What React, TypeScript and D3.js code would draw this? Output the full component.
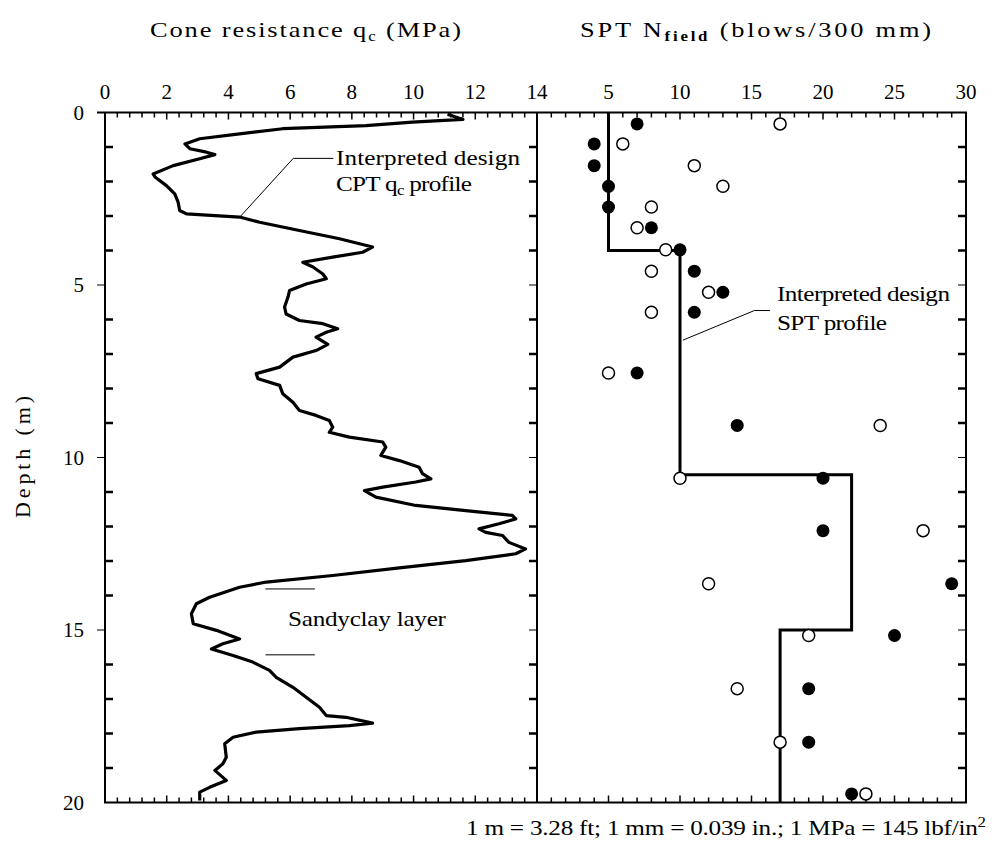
import React from 'react';
import * as d3 from 'd3';

// CPT cone resistance profile (MPa) vs depth (m)
const cptQc = [11.1, 11.6, 9.96, 8.46, 5.76, 4.36, 3.07, 2.59, 2.75, 3.29, 3.56, 3.07, 2.21, 1.56, 1.62, 1.99, 2.26, 2.37, 2.42, 2.64,
  4.36, 5.01, 6.3, 7.6, 8.67, 8.35, 7.38, 6.41, 6.74, 7.06, 7.17, 6.52, 5.98, 5.93, 5.82, 5.87, 6.3, 7.06, 7.54, 7.17,
  6.84, 7.22, 6.84, 6.09, 5.66, 4.9, 4.96, 5.66, 5.76, 6.09, 6.3, 6.84, 7.27, 7.38, 7.27, 7.92, 9.0, 9.1, 8.94, 9.54,
  10.18, 10.29, 10.56, 10.07, 9.0, 8.41, 8.78, 10.07, 11.69, 13.2, 13.31, 12.77, 12.12, 12.34, 12.88, 13.09, 13.63, 13.31, 11.69, 9.54,
  7.38, 5.23, 4.36, 3.39, 2.96, 2.8, 2.86, 3.61, 4.36, 3.82, 3.45, 4.15, 4.79, 5.33, 5.55, 6.09, 6.52, 6.95, 7.17, 7.81,
  8.67, 7.92, 6.3, 4.9, 4.15, 3.88, 3.93, 3.82, 3.56, 3.93, 3.39, 3.07, 3.07];
const cptDepth = [0.05, 0.2, 0.28, 0.38, 0.47, 0.62, 0.76, 0.91, 1.05, 1.15, 1.22, 1.34, 1.54, 1.78, 1.87, 2.12, 2.36, 2.6, 2.84, 2.94,
  3.03, 3.18, 3.42, 3.66, 3.9, 4.05, 4.19, 4.34, 4.48, 4.68, 4.82, 4.97, 5.16, 5.35, 5.64, 5.84, 6.03, 6.12, 6.27, 6.37,
  6.51, 6.72, 6.9, 7.09, 7.38, 7.57, 7.72, 7.91, 8.15, 8.4, 8.64, 8.78, 8.93, 9.12, 9.27, 9.41, 9.55, 9.7, 9.94, 10.09,
  10.28, 10.47, 10.62, 10.71, 10.86, 10.96, 11.15, 11.39, 11.54, 11.68, 11.78, 11.92, 12.07, 12.17, 12.26, 12.46, 12.65, 12.79, 12.99, 13.2,
  13.42, 13.61, 13.76, 14.05, 14.24, 14.53, 14.82, 15.01, 15.26, 15.4, 15.55, 15.74, 15.93, 16.17, 16.37, 16.66, 16.95, 17.24, 17.48, 17.53,
  17.7, 17.77, 17.86, 17.96, 18.11, 18.3, 18.69, 18.88, 19.07, 19.36, 19.56, 19.7, 19.94];

// SPT blow counts
const sptDepth = [0.33, 0.91, 1.54, 2.14, 2.74, 3.34, 3.98, 4.6, 5.21, 5.79, 7.55, 9.07, 10.6, 12.12, 13.66, 15.16, 16.7, 18.25, 19.75];
const sptFilled = [7, 4, 4, 5, 5, 8, 10, 11, 13, 11, 7, 14, 20, 20, 29, 25, 19, 19, 22];
const sptOpen = [17, 6, 11, 13, 8, 7, 9, 8, 12, 8, 5, 24, 10, 27, 12, 19, 14, 17, 23];

// Interpreted design SPT profile (step)
const designDepth = [0, 4, 10.5, 15, 20];
const designN = [5, 10, 22, 17];

const qcTickLabels = [0, 2, 4, 6, 8, 10, 12, 14];
const nTickLabels = [5, 10, 15, 20, 25, 30];
const depthTickLabels = [0, 5, 10, 15, 20];

const FONT = '"Liberation Serif", "Times New Roman", Times, serif';
const TS: React.CSSProperties = { fontFamily: FONT, fontWeight: 400 };
const SX = 1.2;

function SText(props: { x: number; y: number; size: number; len: number; children: any }) {
  const { x, y, size, len, children } = props;
  return (
    <text transform={`translate(${x},${y}) scale(${SX},1)`} fontSize={size} textLength={len / SX} lengthAdjust="spacing">
      {children}
    </text>
  );
}

export default function App() {
  const xq = d3.scaleLinear().domain([0, 14]).range([105, 537]);
  const xn = d3.scaleLinear().domain([0, 30]).range([537, 966]);
  const y = d3.scaleLinear().domain([0, 20]).range([112.5, 802.5]);

  const top = y(0), bot = y(20), left = xq(0), mid = xq(14), right = xn(30);

  const cptPath = d3.line<number>().x((_, i) => xq(cptQc[i])).y((d) => y(d))(cptDepth) || '';

  const designPts: [number, number][] = [];
  designN.forEach((n, i) => {
    designPts.push([xn(n), y(designDepth[i])]);
    designPts.push([xn(n), y(designDepth[i + 1])]);
  });
  const designPath = d3.line()(designPts) || '';

  const qMinor = d3.range(0, 36).map((i) => ({ v: i * 0.4, major: i % 5 === 0 }));
  const nMinor = d3.range(0, 31).map((i) => ({ v: i, major: i % 5 === 0 }));
  const dTicks = d3.range(1, 20).map((i) => ({ v: i, major: i % 5 === 0 }));

  const hTicks: any[] = [];
  qMinor.forEach((t, i) => {
    const x = xq(t.v);
    const len = t.major ? 7 : 5;
    hTicks.push(<line key={'qt' + i} x1={x} x2={x} y1={top} y2={top + len} />);
    hTicks.push(<line key={'qb' + i} x1={x} x2={x} y1={bot} y2={bot - len} />);
  });
  nMinor.forEach((t, i) => {
    const x = xn(t.v);
    const len = t.major ? 7 : 5;
    hTicks.push(<line key={'nt' + i} x1={x} x2={x} y1={top} y2={top + len} />);
    hTicks.push(<line key={'nb' + i} x1={x} x2={x} y1={bot} y2={bot - len} />);
  });

  const vTicks: any[] = [];
  dTicks.forEach((t, i) => {
    const yy = y(t.v);
    if (t.major) {
      vTicks.push(<line key={'la' + i} x1={left - 8} x2={left} y1={yy} y2={yy} strokeWidth={1} />);
      vTicks.push(<line key={'ma' + i} x1={mid - 8} x2={mid} y1={yy} y2={yy} strokeWidth={1} />);
      vTicks.push(<line key={'ra' + i} x1={right - 8} x2={right} y1={yy} y2={yy} strokeWidth={1} />);
    } else {
      vTicks.push(<line key={'li' + i} x1={left} x2={left + 8} y1={yy} y2={yy} strokeWidth={2.5} />);
      vTicks.push(<line key={'mi' + i} x1={mid - 8} x2={mid} y1={yy} y2={yy} strokeWidth={2.5} />);
      vTicks.push(<line key={'ri' + i} x1={right - 8} x2={right} y1={yy} y2={yy} strokeWidth={2.5} />);
    }
  });

  return (
    <svg width={992} height={846} style={{ position: 'absolute', left: 0, top: 0, background: '#fff' }}>
      <rect x={0} y={0} width={992} height={846} fill="#fff" />

      <g style={TS} fill="#000">
        {/* Titles */}
        <SText x={150} y={37} size={22} len={311}>
          Cone resistance q<tspan dy={4} fontSize={14}>c</tspan><tspan dy={-4}> (MPa)</tspan>
        </SText>
        <SText x={580} y={37} size={22} len={351}>
          SPT N<tspan dy={4} fontSize={14} style={{ fontWeight: 700 }}>field</tspan><tspan dy={-4}> (blows/300 mm)</tspan>
        </SText>

        {/* Top tick labels */}
        {qcTickLabels.map((v) => (
          <text key={'ql' + v} x={xq(v)} y={99} fontSize={21} textAnchor="middle">{v}</text>
        ))}
        {nTickLabels.map((v) => (
          <text key={'nl' + v} x={xn(v)} y={99} fontSize={21} textAnchor="middle">{v}</text>
        ))}

        {/* Depth tick labels */}
        {depthTickLabels.map((v) => (
          <text key={'dl' + v} x={84} y={y(v) + 7} fontSize={21} textAnchor="end">{v}</text>
        ))}
        <text transform={`translate(30,457) rotate(-90)`} fontSize={22} textAnchor="middle" textLength={122} lengthAdjust="spacing">Depth (m)</text>
      </g>

      {/* Frame and ticks */}
      <g stroke="#000" fill="none">
        <g strokeWidth={1.5}>{hTicks}</g>
        {vTicks}
        <line x1={97} x2={right + 1} y1={top} y2={top} strokeWidth={2} />
        <line x1={left - 1} x2={right + 1} y1={bot} y2={bot} strokeWidth={2} />
        <line x1={left} x2={left} y1={top} y2={bot} strokeWidth={2} />
        <line x1={mid} x2={mid} y1={top} y2={bot} strokeWidth={2} />
        <line x1={right} x2={right} y1={top} y2={bot} strokeWidth={2} />
      </g>

      {/* CPT profile */}
      <path d={cptPath} fill="none" stroke="#000" strokeWidth={3.2} strokeLinejoin="round" />

      {/* CPT annotation */}
      <path d={d3.line()([[xq(4.4), y(3.0)], [xq(6.1), y(1.33)], [xq(7.4), y(1.33)]]) || ''} fill="none" stroke="#000" strokeWidth={1} />

      {/* Sandy clay layer */}
      <line x1={xq(5.2)} x2={xq(6.8)} y1={y(13.81)} y2={y(13.81)} stroke="#000" strokeWidth={1} />
      <line x1={xq(5.2)} x2={xq(6.8)} y1={y(15.72)} y2={y(15.72)} stroke="#000" strokeWidth={1} />

      {/* SPT design profile */}
      <path d={designPath} fill="none" stroke="#000" strokeWidth={3} />

      {/* SPT annotation */}
      <path d={d3.line()([[xn(10.2), y(6.6)], [xn(15.2), y(5.74)], [xn(16.3), y(5.74)]]) || ''} fill="none" stroke="#000" strokeWidth={1} />

      {/* SPT points */}
      {sptDepth.map((d, i) => (
        <circle key={'f' + i} cx={xn(sptFilled[i])} cy={y(d)} r={6.5} fill="#000" />
      ))}
      {sptDepth.map((d, i) => (
        <circle key={'o' + i} cx={xn(sptOpen[i])} cy={y(d)} r={6} fill="#fff" stroke="#000" strokeWidth={1.5} />
      ))}

      <g style={TS} fill="#000">
        <SText x={336} y={165} size={21} len={184}>Interpreted design</SText>
        <SText x={336} y={191} size={21} len={136}>
          CPT q<tspan dy={4} fontSize={14}>c</tspan><tspan dy={-4}> profile</tspan>
        </SText>
        <SText x={288} y={626} size={21} len={158}>Sandyclay layer</SText>
        <SText x={777} y={301} size={21} len={173}>Interpreted design</SText>
        <SText x={777} y={330} size={21} len={110}>SPT profile</SText>

        {/* Footnote */}
        <SText x={466} y={835} size={21} len={520}>
          1 m = 3.28 ft; 1 mm = 0.039 in.; 1 MPa = 145 lbf/in<tspan dy={-8} fontSize={14}>2</tspan>
        </SText>
      </g>
    </svg>
  );
}
